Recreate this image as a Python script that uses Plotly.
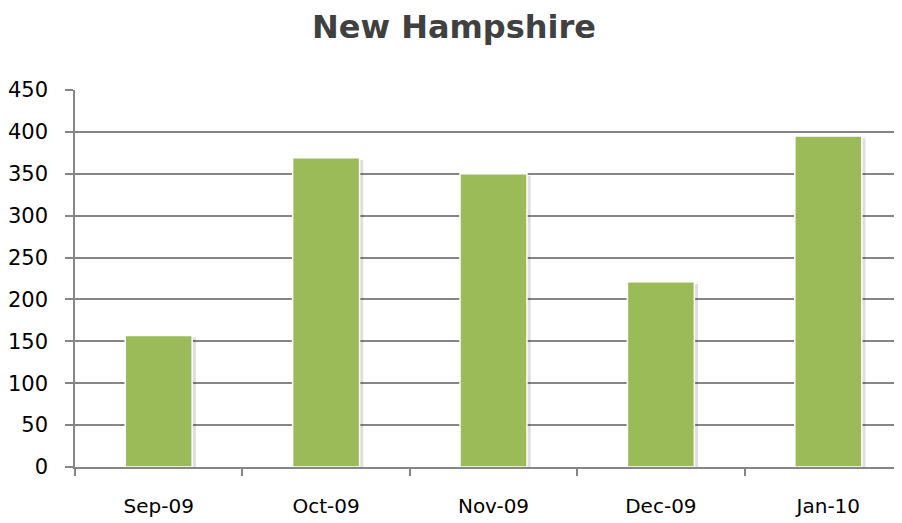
import plotly.graph_objects as go

categories = ["Sep-09", "Oct-09", "Nov-09", "Dec-09", "Jan-10"]
values = [157, 369, 350, 221, 395]
y_ticks = [0, 50, 100, 150, 200, 250, 300, 350, 400, 450]

BAR_W = 0.4
fig = go.Figure()
# soft drop shadow behind the bars
fig.add_trace(go.Bar(
    x=categories, y=[v - 2.5 for v in values], width=BAR_W,
    offset=-BAR_W / 2 + 0.022,
    marker=dict(color="rgba(0,0,0,0.13)", line=dict(width=0)),
    hoverinfo="skip",
))
fig.add_trace(go.Bar(
    x=categories, y=values, width=BAR_W, offset=-BAR_W / 2,
    marker=dict(color="#9BBB59", line=dict(color="#FFFFFF", width=1.5)),
))

# page body adds an 8px margin; the plot area deliberately runs past the right edge
W, H = 904, 515
fig.update_layout(
    width=W, height=H,
    margin=dict(l=67, r=0, t=82, b=56),
    paper_bgcolor="white", plot_bgcolor="white",
    showlegend=False, barmode="overlay",
    title=dict(text="<b>New Hampshire</b>", x=446 / W, xanchor="center",
               y=1 - 19 / H, yanchor="middle", yref="container",
               font=dict(family="DejaVu Sans", size=32, color="#404040")),
    font=dict(family="DejaVu Sans", size=21, color="#000000"),
)
fig.update_xaxes(
    type="category", range=[-0.5, 4.5],
    showline=True, linecolor="#868686", linewidth=1.5,
    ticks="outside", tickson="boundaries", ticklen=7, tickwidth=1.5, tickcolor="#868686",
    ticklabelstandoff=20, showgrid=False, zeroline=False,
    tickfont=dict(family="DejaVu Sans", size=20, color="#000000"),
)
fig.update_yaxes(
    range=[0, 450], tickvals=y_ticks, ticktext=[str(v) for v in y_ticks],
    showline=True, linecolor="#868686", linewidth=1.5,
    ticks="outside", ticklen=8, tickwidth=1.5, tickcolor="#868686",
    showgrid=True, gridcolor="#868686", gridwidth=1.5, zeroline=False,
    ticklabelstandoff=13,
    tickfont=dict(family="DejaVu Sans", size=21, color="#000000"),
)
fig.write_html("out.html")
